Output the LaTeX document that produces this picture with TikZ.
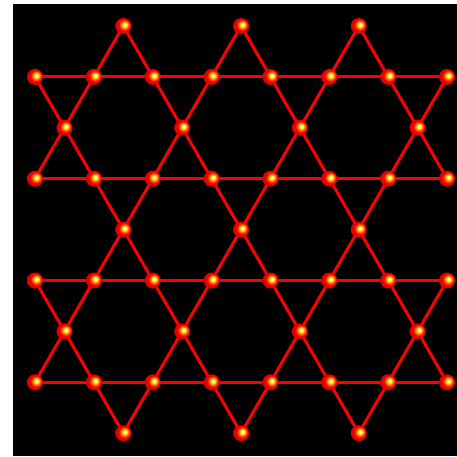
\documentclass[tikz,border=0pt]{standalone}
\usetikzlibrary{calc}
\pgfdeclarelayer{back}
\pgfdeclarelayer{lines}
\pgfsetlayers{back,lines,main}
\pgfdeclareradialshading{sphere}{\pgfpoint{5bp}{5bp}}{color(0bp)=(white); color(5bp)=(white!30!yellow); color(11bp)=(orange); color(17bp)=(red); color(25bp)=(red!85!black); color(50bp)=(red!85!black)}
\tikzset{
  ball/.style={circle, inner sep=0pt, minimum size=16pt, shading=sphere},
  bond/.style={red, line width=3pt}
}
\begin{document}
\begin{tikzpicture}[x=1pt,y=-1pt]
\useasboundingbox (0,0) rectangle (457,456);
\begin{pgfonlayer}{back}
\fill[white] (0,0) rectangle (457,456);
\fill[black] (13,4) rectangle (457,456);
\end{pgfonlayer}
% nodes
\foreach \j/\list in {0/{3,7,11},1/{0,2,4,6,8,10,12,14},2/{1,5,9,13},3/{0,2,4,6,8,10,12,14},4/{3,7,11},5/{0,2,4,6,8,10,12,14},6/{1,5,9,13},7/{0,2,4,6,8,10,12,14},8/{3,7,11}}{
  \foreach \i in \list {
    \node[ball] (n-\i-\j) at ({35+29.43*\i},{26+50.9*\j}) {};
  }
}
\begin{pgfonlayer}{lines}
% horizontal
\foreach \j in {1,3,5,7}{
  \draw[bond] (n-0-\j.center) -- (n-14-\j.center);
}
% down-right diagonals
\foreach \a/\b in {0-1/7-8,3-0/11-8,7-0/14-7,11-0/14-3,0-5/3-8}{
  \draw[bond] (n-\a.center) -- (n-\b.center);
}
% up-right diagonals
\foreach \a/\b in {3-0/0-3,7-0/0-7,11-0/3-8,14-1/7-8,14-5/11-8}{
  \draw[bond] (n-\a.center) -- (n-\b.center);
}
\end{pgfonlayer}
\end{tikzpicture}
\end{document}
